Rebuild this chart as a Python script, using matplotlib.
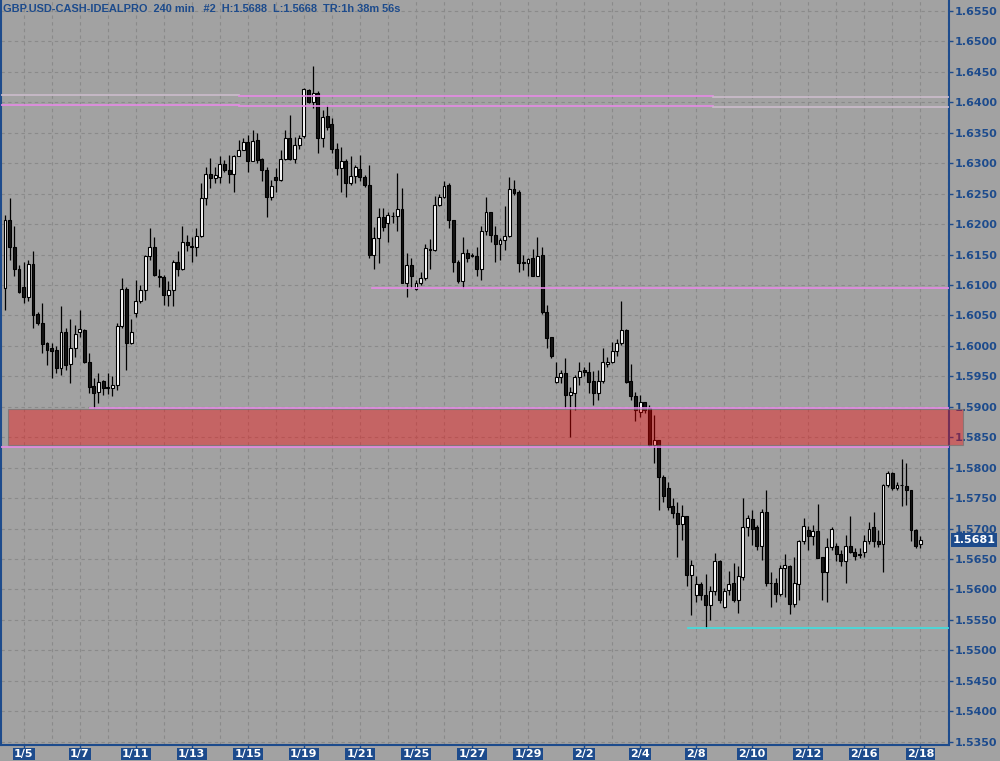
import matplotlib
matplotlib.use('Agg')
import matplotlib.pyplot as plt
import matplotlib.transforms as mtransforms
from matplotlib.patches import Rectangle
import numpy as np

# GBP.USD 240 min bars (open, high, low, close)
opens = [1.6095, 1.6207, 1.6163, 1.6127, 1.6096, 1.6080, 1.6135, 1.6052, 1.6038, 1.6004,
         1.5997, 1.5993, 1.5963, 1.6023, 1.5970, 1.5996, 1.6022, 1.6026, 1.5974, 1.5934,
         1.5925, 1.5943, 1.5933, 1.5931, 1.5935, 1.6033, 1.6093, 1.6004, 1.6054, 1.6074,
         1.6092, 1.6147, 1.6163, 1.6115, 1.6113, 1.6084, 1.6092, 1.6137, 1.6127, 1.6171,
         1.6163, 1.6163, 1.6181, 1.6242, 1.6283, 1.6275, 1.6277, 1.6298, 1.6289, 1.6283,
         1.6312, 1.6322, 1.6335, 1.6303, 1.6338, 1.6306, 1.6289, 1.6245, 1.6277, 1.6273,
         1.6306, 1.6342, 1.6306, 1.6330, 1.6345, 1.6420, 1.6401, 1.6415, 1.6342, 1.6377,
         1.6365, 1.6324, 1.6292, 1.6304, 1.6267, 1.6279, 1.6290, 1.6277, 1.6264, 1.6149,
         1.6177, 1.6212, 1.6201, 1.6213, 1.6213, 1.6224, 1.6103, 1.6133, 1.6093, 1.6104,
         1.6111, 1.6159, 1.6157, 1.6231, 1.6245, 1.6264, 1.6207, 1.6138, 1.6107, 1.6153,
         1.6150, 1.6148, 1.6126, 1.6188, 1.6219, 1.6182, 1.6167, 1.6173, 1.6181, 1.6258,
         1.6252, 1.6137, 1.6136, 1.6144, 1.6115, 1.6149, 1.6056, 1.6014, 1.5940, 1.5949,
         1.5955, 1.5919, 1.5923, 1.5949, 1.5960, 1.5957, 1.5943, 1.5923, 1.5943, 1.5971,
         1.5973, 1.5991, 1.6004, 1.6026, 1.5943, 1.5917, 1.5892, 1.5907, 1.5898, 1.5837,
         1.5846, 1.5785, 1.5766, 1.5737, 1.5726, 1.5708, 1.5721, 1.5624, 1.5591, 1.5609,
         1.5591, 1.5575, 1.5597, 1.5646, 1.5571, 1.5599, 1.5610, 1.5583, 1.5621, 1.5702,
         1.5716, 1.5702, 1.5672, 1.5727, 1.5611, 1.5611, 1.5593, 1.5635, 1.5639, 1.5576,
         1.5609, 1.5679, 1.5698, 1.5687, 1.5696, 1.5653, 1.5628, 1.5669, 1.5671, 1.5659,
         1.5646, 1.5671, 1.5662, 1.5658, 1.5662, 1.5680, 1.5702, 1.5680, 1.5674, 1.5772,
         1.5791, 1.5766, 1.5772, 1.5770, 1.5763, 1.5698, 1.5675]
highs = [1.6215, 1.6242, 1.6196, 1.6133, 1.6138, 1.6141, 1.6155, 1.6056, 1.6071, 1.6007,
         1.6005, 1.5999, 1.6065, 1.6029, 1.6044, 1.6034, 1.6059, 1.6027, 1.5988, 1.5947,
         1.5956, 1.5944, 1.5955, 1.5950, 1.6038, 1.6111, 1.6097, 1.6044, 1.6108, 1.6100,
         1.6149, 1.6193, 1.6179, 1.6127, 1.6116, 1.6106, 1.6141, 1.6155, 1.6196, 1.6182,
         1.6179, 1.6193, 1.6267, 1.6294, 1.6308, 1.6294, 1.6311, 1.6305, 1.6313, 1.6313,
         1.6338, 1.6341, 1.6346, 1.6354, 1.6349, 1.6308, 1.6294, 1.6272, 1.6292, 1.6322,
         1.6354, 1.6379, 1.6343, 1.6346, 1.6423, 1.6422, 1.6459, 1.6418, 1.6387, 1.6395,
         1.6374, 1.6333, 1.6327, 1.6306, 1.6311, 1.6297, 1.6313, 1.6281, 1.6297, 1.6195,
         1.6226, 1.6226, 1.6220, 1.6219, 1.6284, 1.6259, 1.6153, 1.6144, 1.6108, 1.6122,
         1.6168, 1.6175, 1.6246, 1.6250, 1.6270, 1.6267, 1.6207, 1.6141, 1.6179, 1.6159,
         1.6152, 1.6163, 1.6196, 1.6245, 1.6220, 1.6196, 1.6177, 1.6230, 1.6278, 1.6272,
         1.6256, 1.6149, 1.6144, 1.6159, 1.6179, 1.6163, 1.6067, 1.6015, 1.5974, 1.5960,
         1.5980, 1.5933, 1.5952, 1.5973, 1.5966, 1.5974, 1.5958, 1.5961, 1.5996, 1.5982,
         1.6007, 1.6012, 1.6073, 1.6027, 1.5971, 1.5925, 1.5919, 1.5908, 1.5903, 1.5887,
         1.5846, 1.5788, 1.5777, 1.5750, 1.5744, 1.5739, 1.5721, 1.5649, 1.5622, 1.5613,
         1.5626, 1.5606, 1.5660, 1.5649, 1.5602, 1.5630, 1.5644, 1.5639, 1.5750, 1.5722,
         1.5731, 1.5706, 1.5732, 1.5764, 1.5628, 1.5618, 1.5640, 1.5659, 1.5640, 1.5654,
         1.5682, 1.5717, 1.5704, 1.5706, 1.5740, 1.5653, 1.5684, 1.5702, 1.5676, 1.5665,
         1.5689, 1.5721, 1.5668, 1.5668, 1.5690, 1.5710, 1.5728, 1.5698, 1.5773, 1.5795,
         1.5793, 1.5777, 1.5815, 1.5808, 1.5764, 1.5699, 1.5688]
lows = [1.6059, 1.6141, 1.6114, 1.6086, 1.6070, 1.6073, 1.6029, 1.6034, 1.5988, 1.5969,
        1.5947, 1.5955, 1.5952, 1.5961, 1.5939, 1.5982, 1.6015, 1.5972, 1.5922, 1.5898,
        1.5906, 1.5920, 1.5921, 1.5917, 1.5928, 1.6029, 1.5961, 1.6003, 1.6048, 1.6070,
        1.6075, 1.6141, 1.6115, 1.6097, 1.6067, 1.6065, 1.6065, 1.6114, 1.6125, 1.6155,
        1.6138, 1.6147, 1.6179, 1.6231, 1.6259, 1.6267, 1.6267, 1.6286, 1.6267, 1.6253,
        1.6311, 1.6321, 1.6286, 1.6303, 1.6300, 1.6270, 1.6212, 1.6240, 1.6253, 1.6270,
        1.6305, 1.6305, 1.6300, 1.6324, 1.6341, 1.6398, 1.6390, 1.6316, 1.6327, 1.6354,
        1.6316, 1.6281, 1.6253, 1.6245, 1.6264, 1.6268, 1.6270, 1.6261, 1.6144, 1.6127,
        1.6136, 1.6188, 1.6170, 1.6202, 1.6188, 1.6103, 1.6081, 1.6095, 1.6092, 1.6100,
        1.6108, 1.6127, 1.6155, 1.6229, 1.6242, 1.6193, 1.6122, 1.6103, 1.6095, 1.6138,
        1.6146, 1.6114, 1.6108, 1.6182, 1.6171, 1.6138, 1.6141, 1.6158, 1.6179, 1.6248,
        1.6122, 1.6125, 1.6114, 1.6115, 1.6114, 1.6052, 1.5996, 1.5980, 1.5939, 1.5939,
        1.5898, 1.5851, 1.5895, 1.5936, 1.5950, 1.5922, 1.5903, 1.5911, 1.5939, 1.5966,
        1.5972, 1.5983, 1.6001, 1.5939, 1.5911, 1.5877, 1.5883, 1.5889, 1.5835, 1.5807,
        1.5731, 1.5744, 1.5731, 1.5717, 1.5654, 1.5681, 1.5605, 1.5558, 1.5580, 1.5583,
        1.5537, 1.5550, 1.5591, 1.5577, 1.5569, 1.5591, 1.5580, 1.5561, 1.5615, 1.5687,
        1.5673, 1.5665, 1.5648, 1.5605, 1.5572, 1.5580, 1.5589, 1.5588, 1.5560, 1.5572,
        1.5583, 1.5675, 1.5665, 1.5673, 1.5651, 1.5583, 1.5580, 1.5665, 1.5647, 1.5638,
        1.5611, 1.5660, 1.5648, 1.5651, 1.5653, 1.5674, 1.5670, 1.5670, 1.5628, 1.5769,
        1.5764, 1.5763, 1.5737, 1.5739, 1.5680, 1.5668, 1.5668]
closes = [1.6207, 1.6163, 1.6126, 1.6088, 1.6080, 1.6135, 1.6051, 1.6038, 1.6003, 1.5993,
          1.5992, 1.5963, 1.6023, 1.5969, 1.5996, 1.6020, 1.6027, 1.5974, 1.5933, 1.5923,
          1.5941, 1.5931, 1.5931, 1.5935, 1.6033, 1.6093, 1.6004, 1.6023, 1.6074, 1.6092,
          1.6147, 1.6163, 1.6117, 1.6113, 1.6084, 1.6092, 1.6138, 1.6127, 1.6170, 1.6165,
          1.6163, 1.6181, 1.6242, 1.6283, 1.6275, 1.6281, 1.6298, 1.6289, 1.6283, 1.6312,
          1.6322, 1.6335, 1.6303, 1.6337, 1.6305, 1.6289, 1.6245, 1.6263, 1.6273, 1.6306,
          1.6342, 1.6306, 1.6330, 1.6342, 1.6421, 1.6401, 1.6416, 1.6342, 1.6376, 1.6360,
          1.6324, 1.6292, 1.6303, 1.6267, 1.6279, 1.6293, 1.6277, 1.6264, 1.6149, 1.6177,
          1.6212, 1.6195, 1.6215, 1.6213, 1.6224, 1.6103, 1.6133, 1.6114, 1.6104, 1.6111,
          1.6160, 1.6157, 1.6231, 1.6245, 1.6263, 1.6207, 1.6138, 1.6107, 1.6153, 1.6144,
          1.6148, 1.6126, 1.6188, 1.6219, 1.6182, 1.6167, 1.6173, 1.6181, 1.6258, 1.6251,
          1.6136, 1.6136, 1.6142, 1.6115, 1.6148, 1.6055, 1.6013, 1.5983, 1.5949, 1.5955,
          1.5919, 1.5925, 1.5949, 1.5958, 1.5957, 1.5941, 1.5923, 1.5943, 1.5973, 1.5974,
          1.5991, 1.6004, 1.6026, 1.5941, 1.5917, 1.5894, 1.5907, 1.5895, 1.5837, 1.5846,
          1.5784, 1.5753, 1.5736, 1.5725, 1.5708, 1.5720, 1.5624, 1.5640, 1.5609, 1.5591,
          1.5575, 1.5597, 1.5646, 1.5583, 1.5598, 1.5609, 1.5583, 1.5622, 1.5702, 1.5718,
          1.5700, 1.5672, 1.5727, 1.5610, 1.5611, 1.5593, 1.5636, 1.5640, 1.5576, 1.5610,
          1.5679, 1.5704, 1.5687, 1.5696, 1.5651, 1.5628, 1.5669, 1.5700, 1.5659, 1.5646,
          1.5672, 1.5662, 1.5655, 1.5656, 1.5680, 1.5700, 1.5680, 1.5674, 1.5772, 1.5791,
          1.5766, 1.5772, 1.5771, 1.5763, 1.5697, 1.5671, 1.5681]

date_labels = ['1/5', '1/7', '1/11', '1/13', '1/15', '1/19', '1/21', '1/25', '1/27',
               '1/29', '2/2', '2/4', '2/8', '2/10', '2/12', '2/16', '2/18']
date_bars = [4 + 12 * k for k in range(len(date_labels))]
day_bars = [4 + 6 * k for k in range(34)]

# drawn levels (price, first bar, last bar)
chan_top = [1.6412, 1.6410, 1.6408]
chan_bot = [1.6396, 1.6394, 1.6392]
chan_breaks = [-1, 50, 151.5, 206]
res_level, res_start = 1.6095, 78.6
zone_lo, zone_hi, zone_start = 1.5838, 1.5896, 0.65
zone_top_line, zone_top_start = 1.5898, 18.2
zone_bot_line = 1.5834
sup_level, sup_start = 1.5537, 146.2
last_price = 1.5681
header = 'GBP.USD-CASH-IDEALPRO  240 min   #2  H:1.5688  L:1.5668  TR:1h 38m 56s'

bg = '#a2a2a2'
blue = '#1d4b8c'
pink = '#e68ae6'
pale = '#cbbccb'

fig = plt.figure(figsize=(10, 7.61), dpi=100)
fig.patch.set_facecolor(bg)
ax = fig.add_axes([0.001, 16 / 761, 0.948, 745 / 761])
ax.set_facecolor(bg)

x = np.arange(len(opens))
o = np.array(opens)
c = np.array(closes)

# 网格
for lvl in np.arange(1.535, 1.6551, 0.005):
    ax.axhline(lvl, color='#8a8a8a', lw=0.8, ls=(0, (3, 3)), zorder=0)
for b in day_bars:
    ax.axvline(b, color='#8a8a8a', lw=0.8, ls=(0, (3, 3)), zorder=0)

# 蜡烛
ax.vlines(x, lows, highs, color='black', lw=0.9, zorder=2)
up = c >= o
bottoms = np.minimum(o, c)
heights = np.maximum(np.abs(c - o), 0.00002)
ax.bar(x[up], heights[up], bottom=bottoms[up], width=0.62,
       color='white', edgecolor='black', linewidth=0.8, zorder=3)
ax.bar(x[~up], heights[~up], bottom=bottoms[~up], width=0.62,
       color='#151515', edgecolor='black', linewidth=0.8, zorder=3)

# 通道线
for k in range(3):
    seg = [chan_breaks[k], chan_breaks[k + 1]]
    top_col = pink if k == 1 else pale
    bot_col = pale if k == 2 else pink
    ax.plot(seg, [chan_top[k]] * 2, color=top_col, lw=1.2, zorder=4)
    ax.plot(seg, [chan_bot[k]] * 2, color=bot_col, lw=1.2, zorder=4)

ax.plot([res_start, 206], [res_level] * 2, color=pink, lw=1.2, zorder=4)
ax.plot([zone_top_start, 206], [zone_top_line] * 2, color=pink, lw=1.2, zorder=4)
ax.plot([-1, 206], [zone_bot_line] * 2, color=pink, lw=1.2, zorder=4)
ax.plot([sup_start, 206], [sup_level] * 2, color='#3ee0e0', lw=1.2, zorder=4)

zone = Rectangle((zone_start, zone_lo), 205.1 - zone_start, zone_hi - zone_lo,
                 facecolor=(1, 0, 0, 0.38), edgecolor=(0.45, 0.45, 0.45, 0.7),
                 lw=0.8, zorder=5, clip_on=False)
ax.add_patch(zone)

ax.set_xlim(-0.857, 202.14)
ax.set_ylim(1.53446, 1.65679)

for side in ['left', 'right', 'bottom']:
    ax.spines[side].set_color(blue)
    ax.spines[side].set_linewidth(1.5)
ax.spines['top'].set_visible(False)

ax.yaxis.tick_right()
ax.set_yticks(np.arange(1.535, 1.6551, 0.005))
ax.set_yticklabels(['%.4f' % v for v in np.arange(1.535, 1.6551, 0.005)])
ax.tick_params(axis='y', direction='out', length=3, width=1, colors=blue,
               pad=1, labelsize=8)
for lab in ax.get_yticklabels():
    lab.set_fontweight('bold')

ax.set_xticks(date_bars)
ax.set_xticklabels(date_labels)
ax.tick_params(axis='x', direction='out', length=2, width=1, color=blue,
               labelcolor='white', pad=1, labelsize=8)
for lab in ax.get_xticklabels():
    lab.set_family(['Liberation Sans Narrow', 'DejaVu Sans'])
    lab.set_fontweight('bold')
    lab.set_bbox(dict(boxstyle='square,pad=0.1', facecolor=blue, edgecolor='none'))

# 最新价格
trans = mtransforms.blended_transform_factory(ax.transAxes, ax.transData)
ax.text(1.004, last_price, '%.4f' % last_price, transform=trans, color='white',
        fontsize=8, fontweight='bold', va='center', ha='left', zorder=10,
        bbox=dict(boxstyle='square,pad=0.15', facecolor=blue, edgecolor='none'))

ax.text(0.002, 0.988, header, transform=ax.transAxes, color=blue, fontsize=7.9,
        fontweight='bold', va='center', ha='left',
        family=['Liberation Sans', 'DejaVu Sans'])

fig.savefig('out.png', dpi=100, facecolor=bg)
